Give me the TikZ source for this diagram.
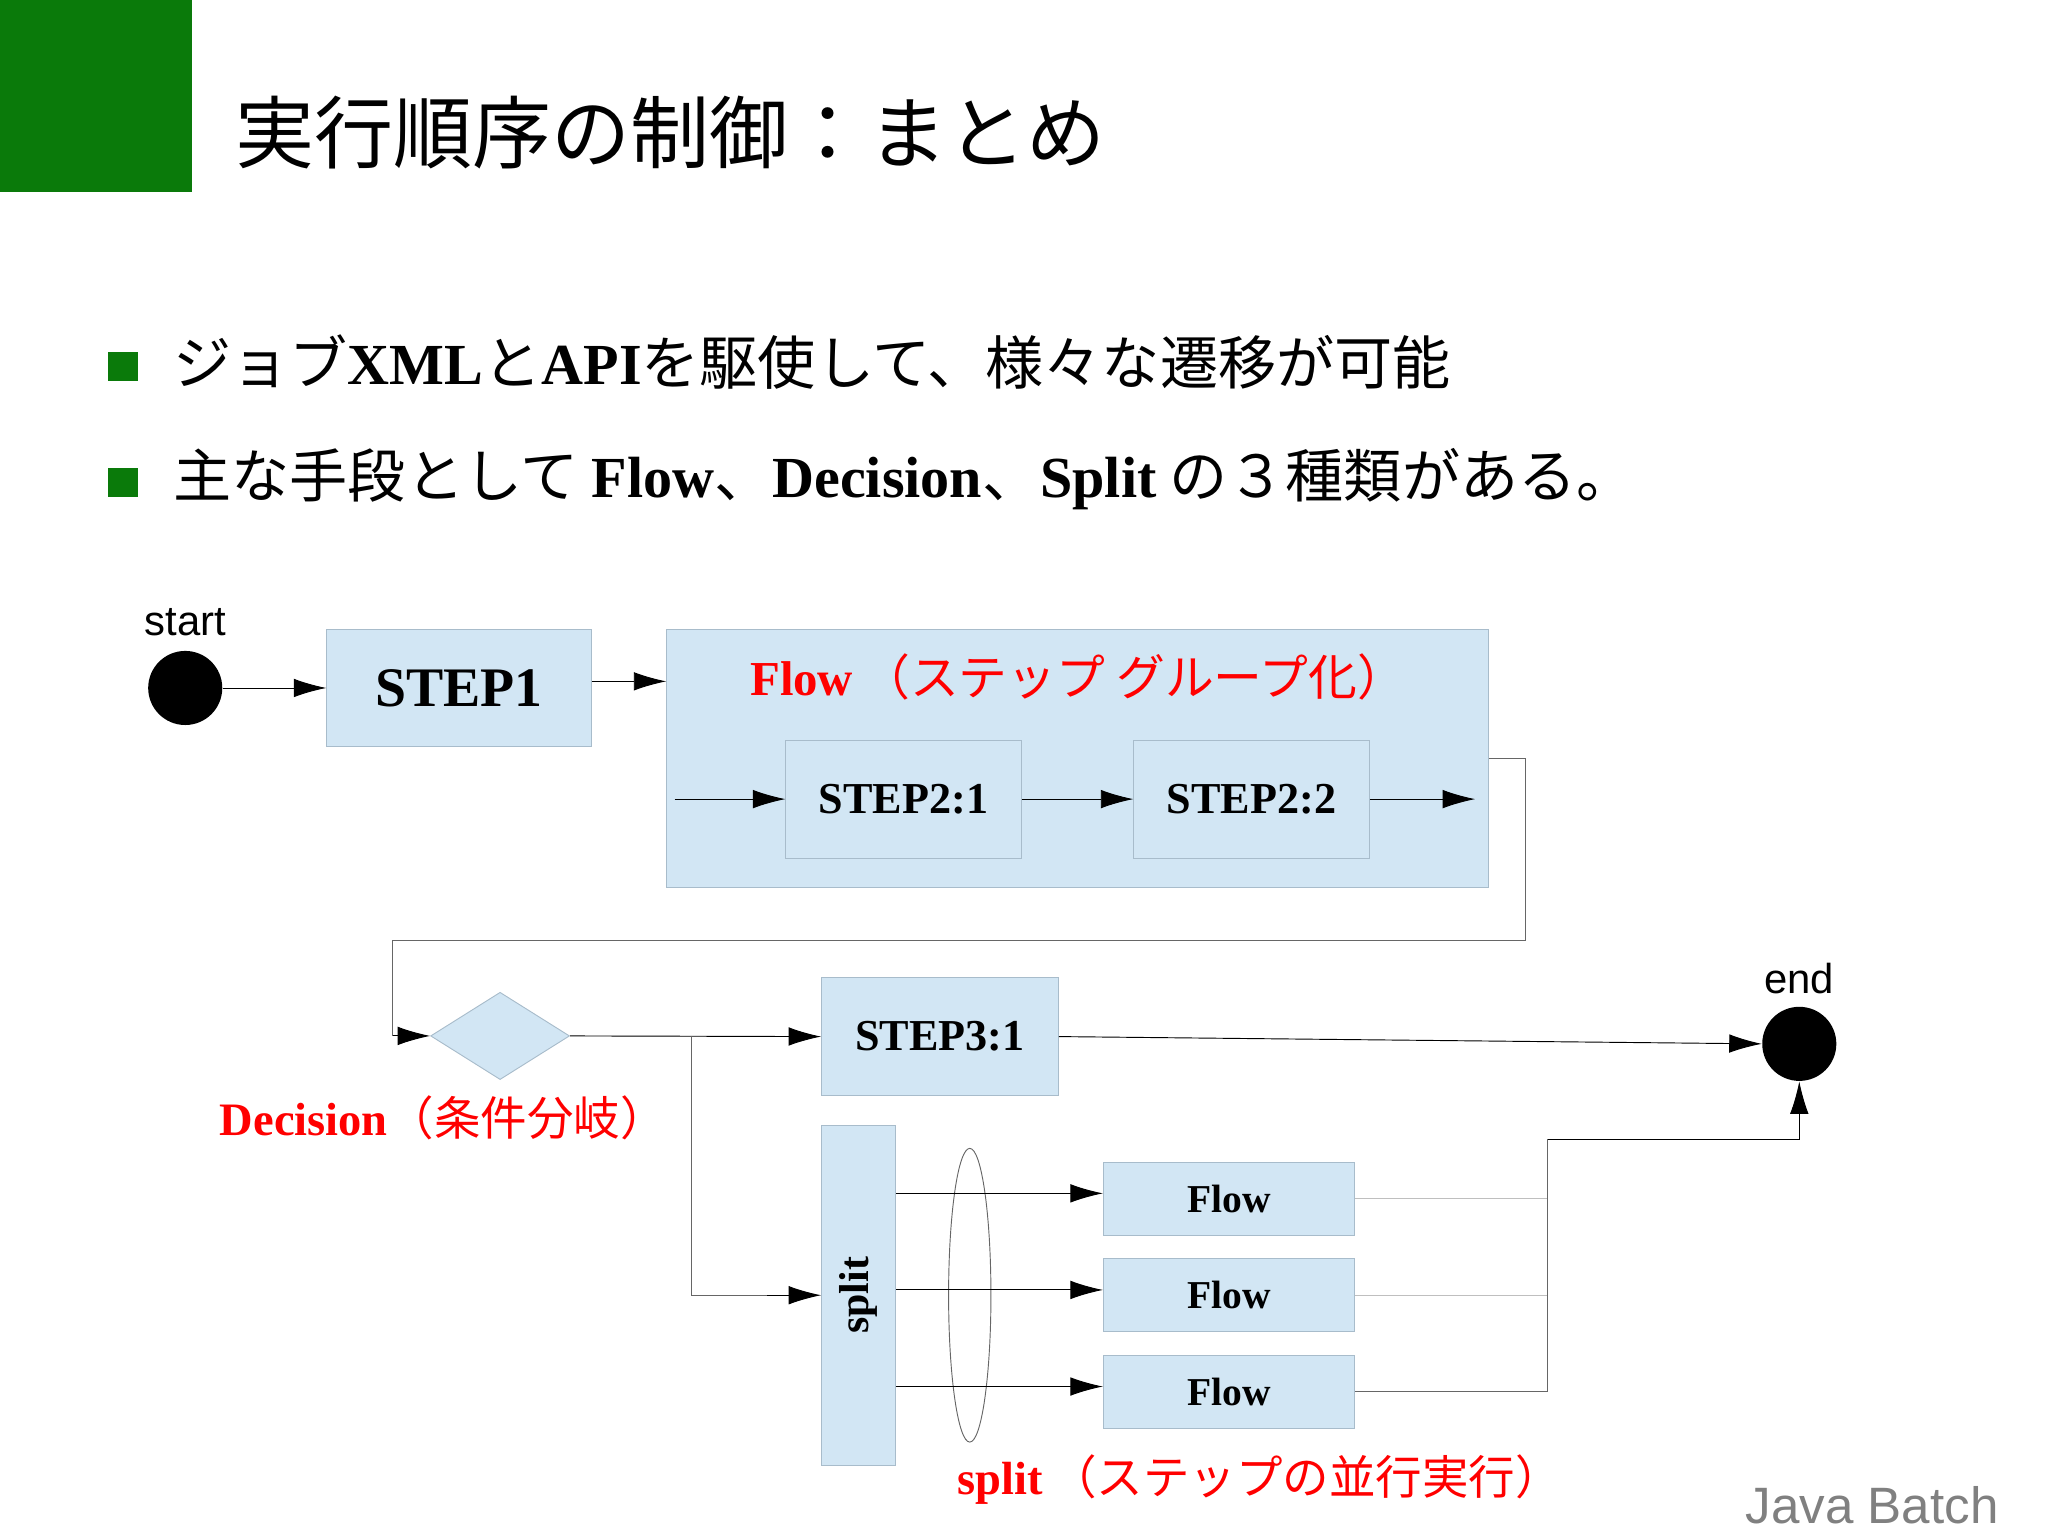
\documentclass[tikz,border=0pt]{standalone}
\usepackage{fontspec}
\usetikzlibrary{shapes.geometric,arrows.meta}
\newfontfamily\jp{Noto Sans CJK JP}
\newfontfamily\lsans{Liberation Sans}
\newfontfamily\fkfont{Liberation Serif}
\definecolor{boxfill}{HTML}{D2E6F4}
\definecolor{boxline}{HTML}{A8BCCB}
\definecolor{gr}{HTML}{0A7A0A}
\newcommand{\fk}[1]{{\fkfont\bfseries #1}}
\tikzset{
 bx/.style={draw=boxline,fill=boxfill,inner sep=0pt},
 arr/.style={-{Latex[length=14pt,width=8pt]},black,line width=0.4pt},
 ln/.style={draw=black!60,line width=0.4pt},
 red/.style={text=red}
}
\begin{document}
\begin{tikzpicture}[x=0.02cm,y=-0.02cm]
\useasboundingbox (0,0) rectangle (1548,1160);
\fill[gr] (0,0) rectangle (145,145);
\node[anchor=west,font=\jp\fontsize{34}{40}\selectfont] (title) at (172,100) {実行順序の制御：まとめ};
\fill[gr] (82,266) rectangle (104,288);
\fill[gr] (82,354) rectangle (104,376);
\node[anchor=west,font=\jp\fontsize{25}{30}\selectfont] (l1) at (125,274) {ジョブ\fk{XML}と\fk{API}を駆使して、様々な遷移が可能};
\node[anchor=west,font=\jp\fontsize{25}{30}\selectfont] (l2) at (125,362) {主な手段として \fk{Flow}、\fk{Decision}、\fk{Split} の３種類がある。};
% start
\node[font=\lsans\fontsize{18}{20}\selectfont] (startl) at (140,470) {start};
\node[circle,fill=black,minimum size=56*0.02cm,inner sep=0] (start) at (140,520) {};
\node[bx,minimum width=200*0.02cm,minimum height=89*0.02cm,font=\fontsize{24}{28}\selectfont] (s1) at (347,520) {\fk{STEP1}};
\node[bx,minimum width=621*0.02cm,minimum height=195*0.02cm] (flow) at (814.5,573.5) {};
\node[red,font=\fontsize{21}{25}\selectfont] (flowl) at (815,512) {\fk{Flow}\,{\jp（ステップ グループ化）}};
\node[bx,minimum width=178*0.02cm,minimum height=89*0.02cm,font=\fontsize{19}{22}\selectfont] (s21) at (683,604) {\fk{STEP2:1}};
\node[bx,minimum width=178*0.02cm,minimum height=89*0.02cm,font=\fontsize{19}{22}\selectfont] (s22) at (946,604) {\fk{STEP2:2}};
\coordinate (fin) at (510,604);
\coordinate (fout) at (1115,604);
\draw[arr] (start) -- (s1);
\draw[arr] (s1.east |- 0,515) -- (flow.west |- 0,515);
\draw[arr] (fin) -- (s21);
\draw[arr] (s21) -- (s22);
\draw[arr] (s22) -- (fout);
% decision
\node[diamond,bx,minimum width=105*0.02cm,minimum height=66*0.02cm,aspect=1.6] (dec) at (378,783) {};
\coordinate (c1) at (1153,573);
\coordinate (c2) at (297,711);
\coordinate (c3) at (297,783);
\draw[ln] (flow.east |- c1) -- (c1) |- (c2) -- (c3);
\draw[arr] (c3) -- (dec.west);
\node[red,font=\fontsize{20}{24}\selectfont] (decl) at (335,845) {\fk{Decision}{\jp（条件分岐）}};
\node[bx,minimum width=179*0.02cm,minimum height=89*0.02cm,font=\fontsize{19}{22}\selectfont] (s31) at (710.5,783.5) {\fk{STEP3:1}};
\node[circle,fill=black,minimum size=56*0.02cm,inner sep=0] (end) at (1360,789) {};
\node[font=\lsans\fontsize{18}{20}\selectfont] (endl) at (1360,740) {end};
\draw[arr] (dec.east) -- (s31.west);
\draw[arr] (s31.east) -- (end.west);
\node[bx,minimum width=56*0.02cm,minimum height=257*0.02cm] (split) at (649,979.5) {};
\node[rotate=90,font=\fontsize{18}{22}\selectfont] (splitl) at (649,979) {\fk{split}};
\coordinate (br) at (523,783);
\coordinate (br2) at (580,979);
\draw[ln] (br) |- (br2);
\draw[arr] (br2) -- (split.west |- br2);
\draw[draw=black!60] (733,979) ellipse [x radius=16*0.02cm, y radius=111*0.02cm];
\foreach \i/\y in {a/906,b/979,c/1052}{
 \node[bx,minimum width=190*0.02cm,minimum height=55*0.02cm,font=\fontsize{17}{20}\selectfont] (f\i) at (929,\y) {\fk{Flow}};
 \draw[arr] (split.east |- 0,\y-4) -- (f\i.west |- 0,\y-4);
}
\coordinate (j) at (1170,861);
\draw[draw=black!25] (fa.east) -- (1170,906);
\draw[draw=black!25] (fb.east) -- (1170,979);
\draw[ln] (fc.east) -- (1170,1052) -- (j);
\draw[arr] (j) -| (end.south);
\node[red,font=\fontsize{20}{24}\selectfont] (splitlab) at (952,1118) {\fk{split}\,{\jp（ステップの並行実行）}};
\node[text=black!50,font=\lsans\fontsize{22}{26}\selectfont] (jb) at (1415,1138) {Java Batch};
\end{tikzpicture}
\end{document}
